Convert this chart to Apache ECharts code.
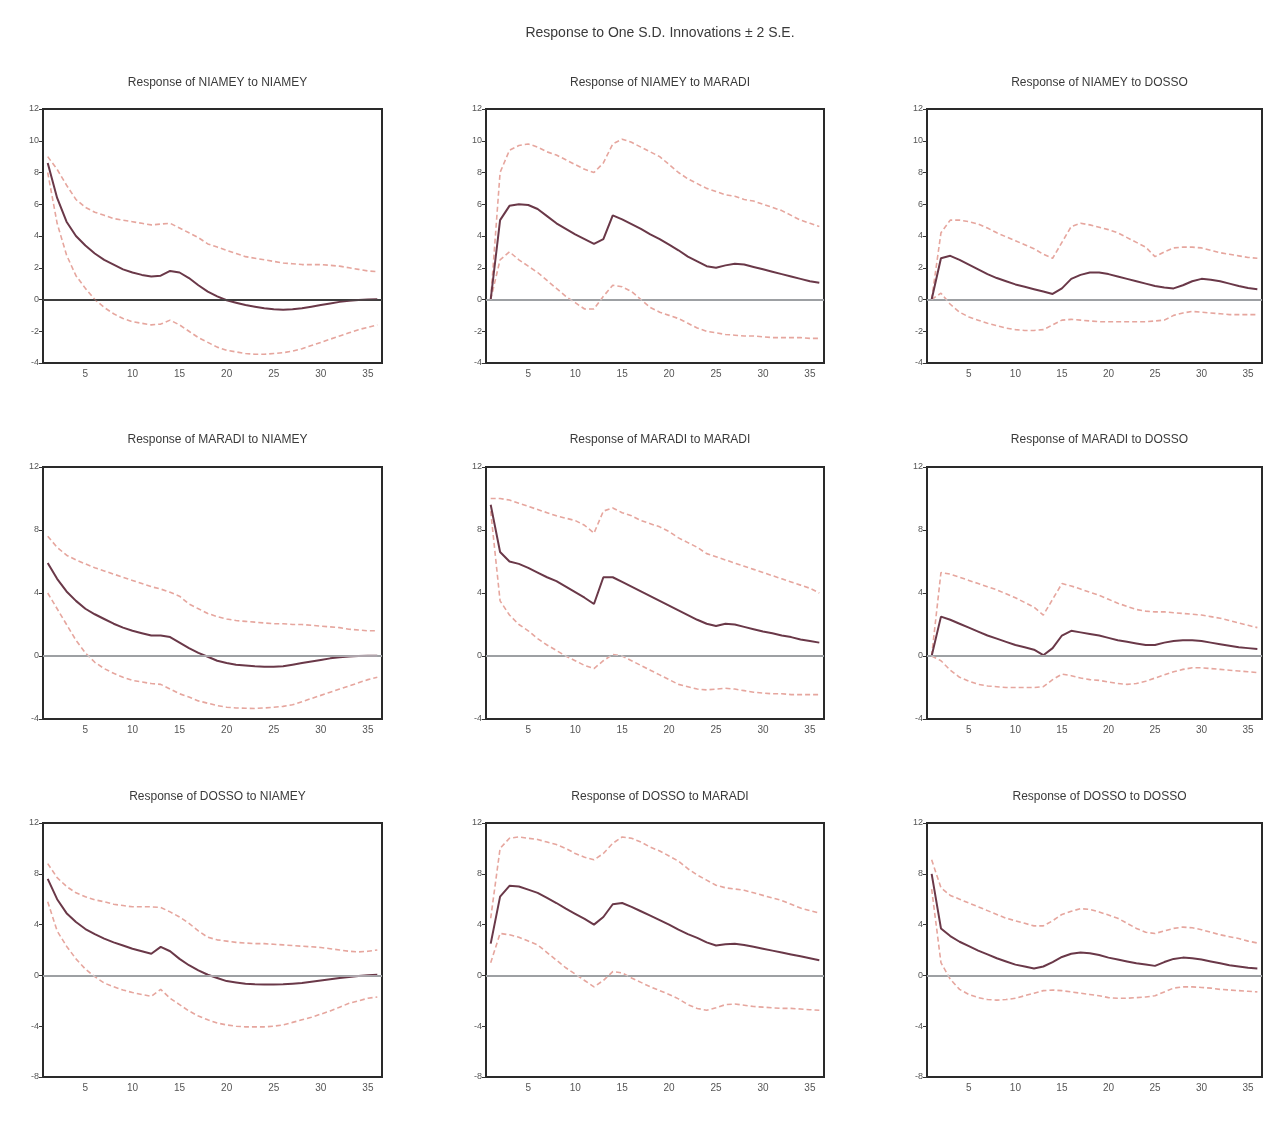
<!DOCTYPE html>
<html>
<head>
<meta charset="utf-8">
<script src="https://cdn.jsdelivr.net/npm/echarts@6/dist/echarts.min.js"></script>
<style>html,body{margin:0;padding:0;background:#fff;}#c{width:1277px;height:1123px;}</style>
</head>
<body>
<div id="c"></div>
<script>
// ---- Data ----
const periods = Array.from({length: 36}, (_, i) => String(i + 1));
const xTickLabels = ['5', '10', '15', '20', '25', '30', '35'];
const mainTitle = 'Response to One S.D. Innovations \u00b1 2 S.E.';
const panelTitles = [
  'Response of NIAMEY to NIAMEY', 'Response of NIAMEY to MARADI', 'Response of NIAMEY to DOSSO',
  'Response of MARADI to NIAMEY', 'Response of MARADI to MARADI', 'Response of MARADI to DOSSO',
  'Response of DOSSO to NIAMEY', 'Response of DOSSO to MARADI', 'Response of DOSSO to DOSSO'
];

// NIAMEY to NIAMEY
const respNN = [8.6,6.4,4.9,4.0,3.4,2.9,2.5,2.2,1.9,1.7,1.55,1.45,1.5,1.8,1.7,1.35,0.9,0.5,0.2,-0.05,-0.2,-0.35,-0.45,-0.55,-0.62,-0.65,-0.62,-0.55,-0.45,-0.35,-0.25,-0.15,-0.08,-0.03,0.0,0.02];
const upNN = [9.0,8.2,7.2,6.3,5.8,5.5,5.3,5.1,5.0,4.9,4.8,4.7,4.75,4.8,4.5,4.2,3.9,3.5,3.3,3.1,2.9,2.7,2.6,2.5,2.4,2.3,2.25,2.2,2.2,2.2,2.15,2.1,2.0,1.9,1.8,1.75];
const loNN = [8.0,4.8,2.8,1.5,0.7,0.0,-0.5,-0.9,-1.2,-1.4,-1.5,-1.6,-1.55,-1.3,-1.6,-2.0,-2.4,-2.7,-3.0,-3.2,-3.3,-3.4,-3.45,-3.45,-3.4,-3.35,-3.25,-3.1,-2.9,-2.7,-2.5,-2.3,-2.1,-1.9,-1.75,-1.6];
// NIAMEY to MARADI
const respNM = [0,5.0,5.9,6.0,5.95,5.7,5.25,4.8,4.45,4.1,3.8,3.5,3.8,5.3,5.05,4.75,4.45,4.1,3.8,3.45,3.1,2.7,2.4,2.1,2.0,2.15,2.25,2.2,2.05,1.9,1.75,1.6,1.45,1.3,1.15,1.05];
const upNM = [0,8.0,9.4,9.7,9.8,9.6,9.3,9.1,8.8,8.5,8.2,8.0,8.6,9.8,10.1,9.9,9.6,9.3,9.0,8.5,8.0,7.6,7.3,7.0,6.8,6.6,6.5,6.3,6.2,6.0,5.8,5.6,5.3,5.0,4.8,4.6];
const loNM = [0,2.5,3.0,2.5,2.1,1.7,1.2,0.7,0.2,-0.2,-0.6,-0.6,0.2,0.9,0.8,0.5,0.0,-0.5,-0.8,-1.0,-1.2,-1.5,-1.8,-2.0,-2.1,-2.2,-2.25,-2.3,-2.3,-2.35,-2.4,-2.4,-2.4,-2.4,-2.45,-2.45];
// NIAMEY to DOSSO
const respND = [0,2.6,2.75,2.5,2.2,1.9,1.6,1.35,1.15,0.95,0.8,0.65,0.5,0.35,0.7,1.3,1.55,1.7,1.7,1.6,1.45,1.3,1.15,1.0,0.85,0.75,0.7,0.9,1.15,1.3,1.25,1.15,1.0,0.85,0.72,0.65];
const upND = [0,4.2,5.0,5.0,4.9,4.75,4.5,4.2,3.95,3.7,3.45,3.2,2.85,2.6,3.6,4.6,4.8,4.7,4.55,4.4,4.2,3.9,3.6,3.3,2.7,3.0,3.25,3.3,3.3,3.25,3.1,2.95,2.85,2.75,2.65,2.6];
const loND = [0,0.4,-0.3,-0.8,-1.1,-1.3,-1.5,-1.65,-1.8,-1.9,-1.95,-1.95,-1.9,-1.6,-1.3,-1.25,-1.3,-1.35,-1.4,-1.4,-1.4,-1.4,-1.4,-1.4,-1.35,-1.3,-1.0,-0.85,-0.75,-0.8,-0.85,-0.9,-0.95,-0.95,-0.95,-0.95];
// MARADI to NIAMEY
const respMN = [5.9,4.9,4.1,3.5,3.0,2.65,2.35,2.05,1.8,1.6,1.45,1.3,1.3,1.2,0.85,0.5,0.2,-0.05,-0.3,-0.45,-0.55,-0.6,-0.65,-0.68,-0.68,-0.65,-0.55,-0.45,-0.35,-0.25,-0.15,-0.08,-0.03,0.0,0.02,0.02];
const upMN = [7.6,6.9,6.4,6.1,5.85,5.6,5.4,5.2,5.0,4.8,4.6,4.4,4.25,4.05,3.8,3.3,3.0,2.7,2.5,2.35,2.25,2.2,2.15,2.1,2.05,2.05,2.0,2.0,1.95,1.9,1.85,1.8,1.7,1.65,1.6,1.6];
const loMN = [4.0,3.0,2.0,1.0,0.2,-0.4,-0.8,-1.1,-1.35,-1.55,-1.65,-1.75,-1.8,-2.1,-2.4,-2.6,-2.85,-3.0,-3.15,-3.25,-3.3,-3.32,-3.33,-3.3,-3.25,-3.2,-3.1,-2.9,-2.7,-2.5,-2.3,-2.1,-1.9,-1.7,-1.5,-1.35];
// MARADI to MARADI
const respMM = [9.6,6.6,6.0,5.85,5.6,5.3,5.0,4.75,4.4,4.05,3.7,3.3,5.0,5.0,4.7,4.4,4.1,3.8,3.5,3.2,2.9,2.6,2.3,2.05,1.9,2.05,2.0,1.85,1.7,1.55,1.45,1.3,1.2,1.05,0.95,0.85];
const upMM = [10.0,10.0,9.9,9.7,9.5,9.3,9.1,8.9,8.75,8.6,8.3,7.8,9.2,9.4,9.1,8.9,8.6,8.4,8.2,7.9,7.5,7.2,6.9,6.5,6.3,6.1,5.9,5.7,5.5,5.3,5.1,4.9,4.7,4.5,4.3,4.0];
const loMM = [9.2,3.5,2.6,2.0,1.6,1.1,0.7,0.35,0.0,-0.3,-0.6,-0.8,-0.3,0.1,0.0,-0.3,-0.6,-0.9,-1.2,-1.5,-1.8,-1.95,-2.1,-2.15,-2.1,-2.05,-2.1,-2.2,-2.3,-2.35,-2.4,-2.4,-2.45,-2.45,-2.45,-2.45];
// MARADI to DOSSO
const respMD = [0,2.5,2.3,2.05,1.8,1.55,1.3,1.1,0.9,0.7,0.55,0.4,0.05,0.5,1.3,1.6,1.5,1.4,1.3,1.15,1.0,0.9,0.8,0.7,0.7,0.85,0.95,1.0,1.0,0.95,0.85,0.75,0.65,0.55,0.5,0.45];
const upMD = [0,5.3,5.2,5.0,4.8,4.6,4.4,4.2,3.95,3.7,3.4,3.1,2.6,3.6,4.6,4.45,4.25,4.05,3.85,3.6,3.35,3.15,2.95,2.85,2.8,2.8,2.75,2.7,2.65,2.6,2.5,2.4,2.25,2.1,1.95,1.8];
const loMD = [0,-0.3,-0.9,-1.35,-1.6,-1.8,-1.9,-1.95,-2.0,-2.0,-2.0,-2.0,-1.95,-1.5,-1.15,-1.25,-1.4,-1.5,-1.55,-1.65,-1.75,-1.8,-1.75,-1.6,-1.4,-1.2,-1.0,-0.85,-0.75,-0.75,-0.8,-0.85,-0.9,-0.95,-1.0,-1.05];
// DOSSO to NIAMEY
const respDN = [7.6,6.0,4.9,4.2,3.65,3.25,2.9,2.6,2.35,2.1,1.9,1.7,2.25,1.9,1.3,0.8,0.4,0.05,-0.2,-0.45,-0.55,-0.65,-0.7,-0.72,-0.72,-0.7,-0.65,-0.6,-0.5,-0.4,-0.3,-0.2,-0.12,-0.05,0.02,0.05];
const upDN = [8.8,7.7,7.0,6.5,6.2,5.95,5.8,5.6,5.5,5.4,5.4,5.4,5.35,5.0,4.6,4.1,3.5,3.0,2.8,2.7,2.6,2.55,2.5,2.5,2.45,2.4,2.35,2.3,2.25,2.2,2.1,2.0,1.9,1.85,1.9,2.0];
const loDN = [5.8,3.5,2.3,1.3,0.5,-0.1,-0.6,-0.9,-1.15,-1.35,-1.5,-1.65,-1.1,-1.8,-2.3,-2.8,-3.2,-3.5,-3.75,-3.9,-4.0,-4.05,-4.05,-4.05,-4.0,-3.9,-3.7,-3.5,-3.3,-3.05,-2.8,-2.5,-2.2,-2.0,-1.8,-1.7];
// DOSSO to MARADI
const respDM = [2.5,6.2,7.05,7.0,6.75,6.5,6.1,5.7,5.25,4.85,4.45,4.0,4.6,5.6,5.7,5.4,5.05,4.7,4.35,4.0,3.6,3.25,2.95,2.6,2.35,2.45,2.5,2.4,2.25,2.1,1.95,1.8,1.65,1.5,1.35,1.2];
const upDM = [4.5,10.0,10.8,10.9,10.8,10.7,10.5,10.3,10.0,9.6,9.3,9.1,9.6,10.4,10.9,10.8,10.5,10.1,9.8,9.4,9.0,8.4,7.9,7.5,7.1,6.9,6.8,6.7,6.5,6.3,6.1,5.9,5.6,5.3,5.1,4.9];
const loDM = [1.0,3.3,3.2,3.0,2.7,2.4,1.8,1.2,0.6,0.1,-0.4,-0.9,-0.4,0.3,0.2,-0.2,-0.55,-0.9,-1.2,-1.5,-1.85,-2.3,-2.6,-2.75,-2.55,-2.3,-2.25,-2.35,-2.45,-2.5,-2.55,-2.6,-2.6,-2.65,-2.7,-2.75];
// DOSSO to DOSSO
const respDD = [8.0,3.7,3.1,2.65,2.3,1.95,1.65,1.35,1.1,0.85,0.7,0.55,0.7,1.05,1.45,1.7,1.8,1.75,1.6,1.4,1.25,1.1,0.95,0.85,0.75,1.05,1.3,1.4,1.35,1.25,1.1,0.95,0.8,0.7,0.6,0.55];
const upDD = [9.1,6.9,6.3,6.0,5.7,5.4,5.1,4.8,4.5,4.3,4.1,3.9,3.9,4.3,4.8,5.05,5.25,5.2,5.0,4.75,4.5,4.1,3.7,3.4,3.3,3.5,3.7,3.8,3.75,3.6,3.4,3.2,3.05,2.9,2.7,2.55];
const loDD = [6.8,1.0,-0.3,-1.1,-1.5,-1.75,-1.9,-1.95,-1.9,-1.8,-1.6,-1.4,-1.2,-1.15,-1.2,-1.3,-1.4,-1.5,-1.6,-1.75,-1.8,-1.8,-1.75,-1.7,-1.6,-1.3,-1.0,-0.9,-0.9,-0.95,-1.0,-1.1,-1.15,-1.2,-1.25,-1.3];

const responses = [respNN, respNM, respND, respMN, respMM, respMD, respDN, respDM, respDD];
const uppers = [upNN, upNM, upND, upMN, upMM, upMD, upDN, upDM, upDD];
const lowers = [loNN, loNM, loND, loMN, loMM, loMD, loDN, loDM, loDD];

const yMins = [-4, -4, -8];
const yMaxs = [12, 12, 12];
const yIntervals = [2, 4, 4];

// ---- Layout ----
const colLeft = [43, 486, 927];
const colWidth = [339, 338, 335];
const rowTop = [109, 467, 823];
const rowHeight = [254, 252, 254];
const titleY = [72, 429, 786];

const mainColor = '#6a3848';
const bandColor = '#e6a69e';
const font = 'Liberation Sans, Arial, sans-serif';

const grids = [], xAxes = [], yAxes = [], series = [], titles = [];
titles.push({text: mainTitle, left: 655, top: 21, textAlign: 'center',
  textStyle: {fontSize: 14, fontWeight: 'normal', color: '#3a3a3a', fontFamily: font}});

for (let i = 0; i < 9; i++) {
  const r = Math.floor(i / 3), c = i % 3;
  grids.push({left: colLeft[c], top: rowTop[r], width: colWidth[c], height: rowHeight[r],
    show: true, borderColor: '#2a2a2a', borderWidth: 2, backgroundColor: '#fff'});
  titles.push({text: panelTitles[i], left: colLeft[c] + colWidth[c] / 2, top: titleY[r], textAlign: 'center',
    textStyle: {fontSize: 12, fontWeight: 'normal', color: '#3a3a3a', fontFamily: font}});
  xAxes.push({type: 'category', gridIndex: i, data: periods, boundaryGap: true,
    axisLine: {lineStyle: {color: '#2a2a2a', width: 2}},
    axisTick: {alignWithLabel: true, interval: 0, length: 4, lineStyle: {color: '#333'}},
    axisLabel: {interval: (idx, val) => xTickLabels.indexOf(val) >= 0, fontSize: 10, color: '#555', margin: 6,
      fontFamily: font},
    splitLine: {show: false}});
  yAxes.push({type: 'value', gridIndex: i, min: yMins[r], max: yMaxs[r], interval: yIntervals[r],
    axisLine: {show: true, lineStyle: {color: '#2a2a2a', width: 2}},
    axisTick: {show: true, length: 4, lineStyle: {color: '#333'}},
    axisLabel: {fontSize: 9, color: '#555', margin: 4, fontFamily: font},
    splitLine: {show: false}});
  const zeroColor = i === 0 ? '#444' : '#c4c8cc';
  series.push({type: 'line', xAxisIndex: i, yAxisIndex: i, data: uppers[i], symbol: 'none', silent: true,
    lineStyle: {color: bandColor, width: 1.6, type: [5, 3]}, z: 2});
  series.push({type: 'line', xAxisIndex: i, yAxisIndex: i, data: lowers[i], symbol: 'none', silent: true,
    lineStyle: {color: bandColor, width: 1.6, type: [5, 3]}, z: 2});
  series.push({type: 'line', xAxisIndex: i, yAxisIndex: i, data: responses[i], symbol: 'none', silent: true,
    lineStyle: {color: mainColor, width: 2}, z: 3,
    markLine: {silent: true, symbol: 'none', label: {show: false},
      lineStyle: {color: zeroColor, width: 1.5, type: 'solid'}, data: [{yAxis: 0}]}});
}

const chart = echarts.init(document.getElementById('c'), null, {renderer: 'canvas'});
chart.setOption({
  animation: false,
  backgroundColor: '#fff',
  title: titles,
  grid: grids,
  xAxis: xAxes,
  yAxis: yAxes,
  series: series
});
</script>
</body>
</html>
